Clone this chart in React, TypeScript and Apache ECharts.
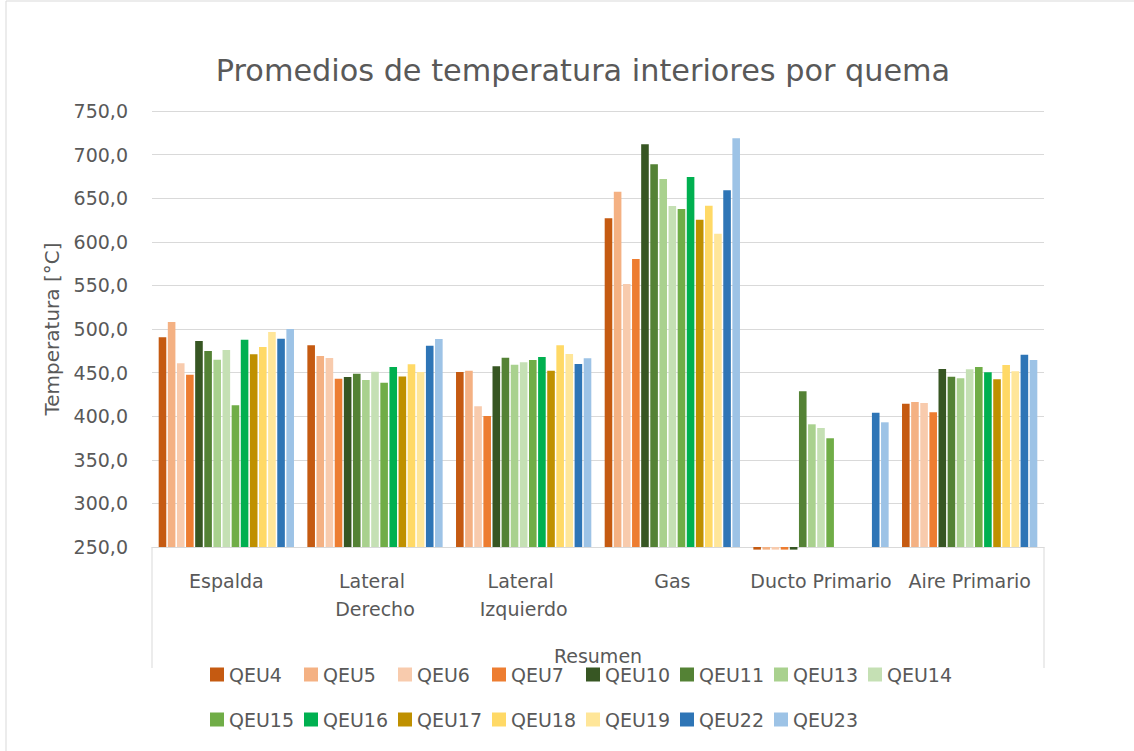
import React, { useEffect, useRef } from "react";
import * as echarts from "echarts";

const TITLE = "Promedios de temperatura interiores por quema";
const Y_NAME = "Temperatura [°C]";
const X_OUTER = "Resumen";
const categories = ["Espalda", "Lateral Derecho", "Lateral Izquierdo", "Gas", "Ducto Primario", "Aire Primario"];

const seriesNames = ["QEU4", "QEU5", "QEU6", "QEU7", "QEU10", "QEU11", "QEU13", "QEU14", "QEU15", "QEU16", "QEU17", "QEU18", "QEU19", "QEU22", "QEU23"];
const seriesColors = ["#C55A11", "#F4B183", "#F8CBAD", "#ED7D31", "#375623", "#548235", "#A9D18E", "#C5E0B4", "#70AD47", "#00B050", "#BF9000", "#FFD966", "#FFE699", "#2E75B6", "#9DC3E6"];

const QEU4 = [490.5, 481.3, 450.7, 627.0, 247, 414.3];
const QEU5 = [508.0, 469.0, 452.2, 657.5, 247, 416.3];
const QEU6 = [460.7, 466.7, 411.4, 551.6, 247, 415.1];
const QEU7 = [447.6, 443.0, 400.2, 580.3, 247, 404.5];
const QEU10 = [486.2, 445.0, 457.2, 711.8, 247, 454.1];
const QEU11 = [474.8, 448.7, 467.1, 688.9, 428.6, 445.3];
const QEU13 = [464.8, 441.5, 459.1, 672.0, 390.7, 443.5];
const QEU14 = [475.9, 451.0, 461.8, 641.1, 386.5, 453.8];
const QEU15 = [412.5, 438.4, 464.4, 637.6, 374.7, 456.4];
const QEU16 = [487.7, 456.4, 467.9, 674.3, null, 450.3];
const QEU17 = [471.0, 445.4, 452.2, 625.3, null, 442.3];
const QEU18 = [479.4, 459.5, 481.3, 641.4, null, 458.7];
const QEU19 = [496.6, 450.7, 471.3, 609.3, null, 451.5];
const QEU22 = [488.9, 480.8, 459.9, 659.1, 404.0, 470.5];
const QEU23 = [500.0, 488.5, 466.4, 718.7, 393.0, 464.5];

const seriesValues = [QEU4, QEU5, QEU6, QEU7, QEU10, QEU11, QEU13, QEU14, QEU15, QEU16, QEU17, QEU18, QEU19, QEU22, QEU23];

const Y_MIN = 250;
const Y_MAX = 750;
const Y_STEP = 50;

const FONT = "DejaVu Sans";
const TXT = "#595959";
const GRID_C = "#D9D9D9";

export default function App() {
  const ref = useRef<HTMLDivElement>(null);
  useEffect(() => {
    if (!ref.current) return;
    const chart = echarts.init(ref.current, null, { renderer: "svg" });
    const legendText = { color: TXT, fontFamily: FONT, fontSize: 19 };
    const perRow = 8;
    const legends = seriesNames.map((n, i) => ({
      data: [n],
      left: 205 + 94 * (i % perRow),
      top: i < perRow ? 660 : 705,
      itemWidth: 14,
      itemHeight: 14,
      itemGap: 0,
      icon: "rect",
      textStyle: legendText,
    }));
    const option = {
      animation: false,
      backgroundColor: "#fff",
      grid: { left: 152, right: 90, top: 111, bottom: 204, containLabel: false },
      legend: legends,
      xAxis: {
        type: "category",
        data: categories,
        axisLine: { show: true, lineStyle: { color: GRID_C, width: 1 } },
        axisTick: { show: false },
        axisLabel: {
          color: TXT,
          fontFamily: FONT,
          fontSize: 19,
          margin: 20,
          lineHeight: 28,
          width: 148,
          overflow: "break",
          interval: 0,
        },
      },
      yAxis: {
        type: "value",
        min: Y_MIN,
        max: Y_MAX,
        interval: Y_STEP,
        startValue: Y_MIN,
        name: Y_NAME,
        nameLocation: "middle",
        nameRotate: 90,
        nameGap: 90,
        nameTextStyle: { color: TXT, fontFamily: FONT, fontSize: 20 },
        axisLine: { show: false },
        axisTick: { show: false },
        splitLine: { lineStyle: { color: GRID_C, width: 1 } },
        axisLabel: {
          color: TXT,
          fontFamily: FONT,
          fontSize: 19,
          margin: 24,
          formatter: (v: number) => v.toFixed(1).replace(".", ","),
        },
      },
      series: seriesNames.map((n, i) => ({
        name: n,
        type: "bar",
        data: seriesValues[i],
        clip: false,
        itemStyle: { color: seriesColors[i] },
        barGap: "20%",
        barCategoryGap: "9%",
      })),
      graphic: [
        {
          type: "rect",
          shape: { x: 6, y: 1, width: 1200, height: 800 },
          style: { fill: "none", stroke: GRID_C, lineWidth: 1 },
          silent: true,
          z: -1,
        },
        {
          type: "text",
          x: 583,
          y: 70,
          style: {
            text: TITLE,
            fill: TXT,
            font: `30.3px "${FONT}"`,
            textAlign: "center",
            textVerticalAlign: "middle",
          },
        },
        {
          type: "line",
          shape: { x1: 152, y1: 547, x2: 152, y2: 668 },
          style: { stroke: GRID_C, lineWidth: 1 },
        },
        {
          type: "line",
          shape: { x1: 1044, y1: 547, x2: 1044, y2: 668 },
          style: { stroke: GRID_C, lineWidth: 1 },
        },
        {
          type: "text",
          x: 598,
          y: 656,
          style: {
            text: X_OUTER,
            fill: TXT,
            font: `19px "${FONT}"`,
            textAlign: "center",
            textVerticalAlign: "middle",
          },
        },
      ],
    };
    chart.setOption(option as any);
    return () => chart.dispose();
  }, []);
  return (
    <div
      ref={ref}
      style={{ position: "absolute", left: 0, top: 0, width: 1134, height: 751, background: "#fff" }}
    />
  );
}
